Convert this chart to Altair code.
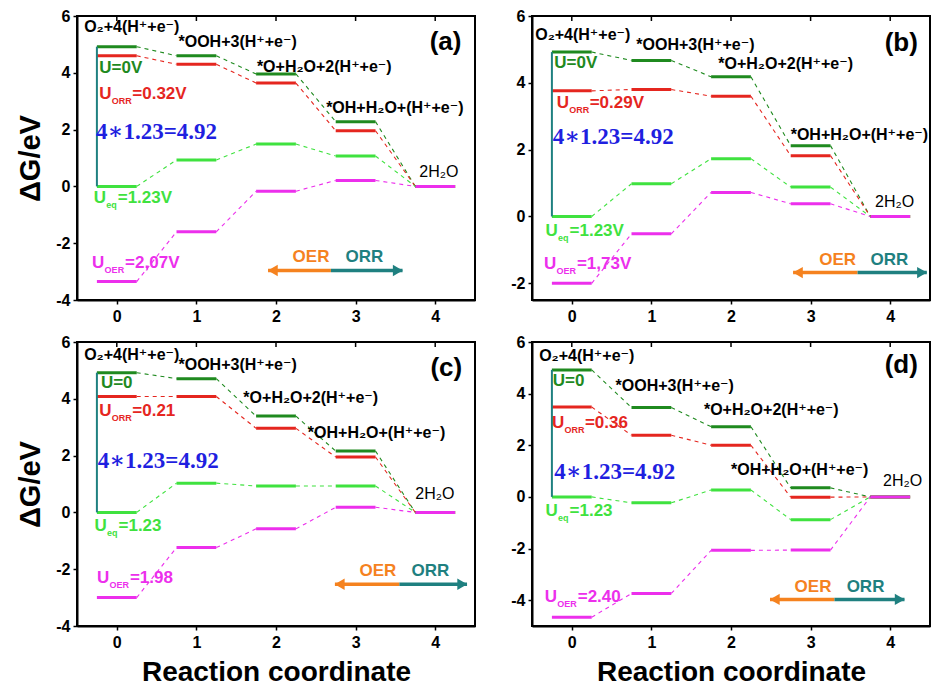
import altair as alt
import pandas as pd

SANS = "Liberation Sans, DejaVu Sans, Arial"
SERIF = "Liberation Serif, DejaVu Serif, Times New Roman"

steps = [0, 1, 2, 3, 4]
series = ["U0", "ORR", "EQ", "OER"]
series_colors = ["#1f8a1f", "#e5261f", "#3fe23f", "#ec2fec"]
teal = "#1f8080"
orange = "#f5821f"
blue = "#1f1fe0"

# Free energy (eV) of each intermediate, per panel and potential
a_u0 = [4.92, 4.60, 3.96, 2.28, 0.0]
a_orr = [4.60, 4.30, 3.64, 1.96, 0.0]
a_eq = [0.0, 0.93, 1.49, 1.07, 0.0]
a_oer = [-3.35, -1.60, -0.17, 0.21, 0.0]

b_u0 = [4.92, 4.67, 4.18, 2.12, 0.0]
b_orr = [3.76, 3.80, 3.60, 1.82, 0.0]
b_eq = [0.0, 0.98, 1.73, 0.88, 0.0]
b_oer = [-2.00, -0.52, 0.72, 0.38, 0.0]

c_u0 = [4.92, 4.71, 3.39, 2.16, 0.0]
c_orr = [4.08, 4.08, 2.96, 1.95, 0.0]
c_eq = [0.0, 1.03, 0.93, 0.93, 0.0]
c_oer = [-3.00, -1.24, -0.58, 0.18, 0.0]

d_u0 = [4.92, 3.46, 2.72, 0.35, 0.0]
d_orr = [3.48, 2.39, 2.00, -0.01, 0.0]
d_eq = [0.0, -0.23, 0.27, -0.88, 0.0]
d_oer = [-4.66, -3.74, -2.07, -2.06, 0.0]

energies = {
    "a": [a_u0, a_orr, a_eq, a_oer],
    "b": [b_u0, b_orr, b_eq, b_oer],
    "c": [c_u0, c_orr, c_eq, c_oer],
    "d": [d_u0, d_orr, d_eq, d_oer],
}
y_domains = {"a": [-4, 6], "b": [-2.5, 6], "c": [-4, 6], "d": [-5, 6]}
y_ticks = {"a": [-4, -2, 0, 2, 4, 6], "b": [-2, 0, 2, 4, 6],
           "c": [-4, -2, 0, 2, 4, 6], "d": [-4, -2, 0, 2, 4, 6]}

species = ["O₂+4(H⁺+e⁻)", "*OOH+3(H⁺+e⁻)", "*O+H₂O+2(H⁺+e⁻)",
           "*OH+H₂O+(H⁺+e⁻)", "2H₂O"]
species_x = {"a": [-0.41, 0.775, 1.76, 2.63, 3.80],
             "b": [-0.46, 0.81, 1.84, 2.75, 3.81],
             "c": [-0.41, 0.775, 1.59, 2.40, 3.75],
             "d": [-0.41, 0.55, 1.66, 2.00, 3.91]}
species_y = {"a": [5.61, 5.08, 4.20, 2.76, 0.51],
             "b": [5.42, 5.12, 4.55, 2.43, 0.42],
             "c": [5.55, 5.20, 4.02, 2.79, 0.64],
             "d": [5.45, 4.28, 3.38, 1.06, 0.61]}

panel_tag = {"a": (3.93, 5.10), "b": (3.93, 5.20), "c": (3.94, 5.08), "d": (3.93, 5.12)}

# potential labels: U=0, U_ORR, 4*1.23 sum, U_eq, U_OER  -> (x, y)
u_pos = {
    "a": [(-0.22, 4.17), (-0.22, 3.25), (-0.26, 1.92), (-0.29, -0.41), (-0.31, -2.70)],
    "b": [(-0.22, 4.58), (-0.19, 3.41), (-0.24, 2.37), (-0.33, -0.42), (-0.35, -1.41)],
    "c": [(-0.20, 4.55), (-0.22, 3.58), (-0.24, 1.81), (-0.28, -0.47), (-0.25, -2.31)],
    "d": [(-0.24, 4.48), (-0.25, 2.86), (-0.22, 0.97), (-0.33, -0.53), (-0.34, -3.88)],
}
u_text = {
    "a": ["U=0V", "=0.32V", "=1.23V", "=2,07V"],
    "b": ["U=0V", "=0.29V", "=1.23V", "=1,73V"],
    "c": ["U=0", "=0.21", "=1.23", "=1.98"],
    "d": ["U=0", "=0.36", "=1.23", "=2.40"],
}
sum_text = "4∗1.23=4.92"

# OER / ORR direction arrows: y, left tip, middle, right tip, label y, OER x, ORR x
arrows = {
    "a": (-2.96, 1.90, 2.69, 3.59, -2.50, 2.44, 3.11),
    "b": (-1.68, 2.78, 3.59, 4.46, -1.29, 3.34, 3.99),
    "c": (-2.53, 2.74, 3.55, 4.40, -2.07, 3.28, 3.94),
    "d": (-3.97, 2.49, 3.30, 4.18, -3.48, 3.03, 3.69),
}

HALF = 0.25
W, H = 398, 284


def panel(key, show_y_title, show_x_title):
    rows, links = [], []
    for s, vals in zip(series, energies[key]):
        for i, g in enumerate(vals):
            rows.append({"series": s, "x": i - HALF, "x2": i + HALF, "g": g})
            if i < len(vals) - 1:
                links.append({"series": s, "x": i + HALF, "x2": i + 1 - HALF,
                              "y": g, "y2": vals[i + 1]})
    lv = pd.DataFrame(rows)
    ln = pd.DataFrame(links)

    xs = alt.Scale(domain=[-0.5, 4.5], nice=False, zero=False)
    ys = alt.Scale(domain=y_domains[key], nice=False, zero=False)
    col = alt.Color("series:N", scale=alt.Scale(domain=series, range=series_colors), legend=None)

    xa = alt.Axis(values=steps, grid=False, labelFontSize=16, labelFontWeight="bold",
                  labelFont=SANS, labelColor="black", tickSize=4, tickWidth=1.5,
                  tickColor="black", labelPadding=4, domainWidth=2, domainColor="black",
                  labelExpr="'' + datum.value",
                  title="Reaction coordinate" if show_x_title else None,
                  titleFontSize=28, titleFont=SANS, titleFontWeight="bold",
                  titlePadding=8, titleColor="black")
    ya = alt.Axis(values=y_ticks[key], grid=False, labelFontSize=16, labelFontWeight="bold",
                  labelFont=SANS, labelColor="black", tickSize=4, tickWidth=1.5,
                  tickColor="black", labelPadding=3, domainWidth=2, domainColor="black",
                  labelExpr="'' + datum.value",
                  title="ΔG/eV" if show_y_title else None,
                  titleFontSize=29, titleFont=SANS, titleFontWeight="bold",
                  titlePadding=10, titleColor="black")

    def X(f):
        return alt.X(f, scale=xs, axis=xa)

    def Y(f):
        return alt.Y(f, scale=ys, axis=ya)

    levels = alt.Chart(lv).mark_rule(strokeWidth=3).encode(
        x=X("x:Q"), x2="x2:Q", y=Y("g:Q"), color=col)
    connectors = alt.Chart(ln).mark_rule(strokeWidth=1.1, strokeDash=[4, 4]).encode(
        x=X("x:Q"), x2="x2:Q", y=Y("y:Q"), y2="y2:Q", color=col)
    span = alt.Chart(pd.DataFrame({"x": [-HALF], "y": [0.0], "y2": [energies[key][0][0]]})).mark_rule(
        strokeWidth=2, color=teal).encode(x=X("x:Q"), y=Y("y:Q"), y2="y2:Q")

    inner_ticks = alt.Chart(pd.DataFrame({"t": steps})).mark_rule(
        strokeWidth=1.5, color="black").encode(x=X("t:Q"), y=alt.value(0), y2=alt.value(5))

    sp = pd.DataFrame({"txt": species, "x": species_x[key], "y": species_y[key]})
    species_txt = alt.Chart(sp[sp.txt != "2H₂O"]).mark_text(
        align="left", baseline="middle", font=SANS, fontSize=16, fontWeight="bold",
        color="black").encode(x=X("x:Q"), y=Y("y:Q"), text="txt:N")
    water_txt = alt.Chart(sp[sp.txt == "2H₂O"]).mark_text(
        align="left", baseline="middle", font=SANS, fontSize=16, color="black").encode(
        x=X("x:Q"), y=Y("y:Q"), text="txt:N")

    tx, ty = panel_tag[key]
    tag = alt.Chart(pd.DataFrame({"x": [tx], "y": [ty], "t": [f"({key})"]})).mark_text(
        align="left", baseline="middle", font=SANS, fontSize=26, fontWeight="bold",
        color="black").encode(x=X("x:Q"), y=Y("y:Q"), text="t:N")

    pos = u_pos[key]
    txt = u_text[key]
    u0 = alt.Chart(pd.DataFrame({"x": [pos[0][0]], "y": [pos[0][1]], "t": [txt[0]]})).mark_text(
        align="left", baseline="middle", font=SANS, fontSize=17, fontWeight="bold",
        color=series_colors[0]).encode(x=X("x:Q"), y=Y("y:Q"), text="t:N")
    total = alt.Chart(pd.DataFrame({"x": [pos[2][0]], "y": [pos[2][1]], "t": [sum_text]})).mark_text(
        align="left", baseline="middle", font=SERIF, fontSize=23, fontWeight="bold",
        color=blue).encode(x=X("x:Q"), y=Y("y:Q"), text="t:N")

    ul = pd.DataFrame({
        "x": [pos[1][0], pos[3][0], pos[4][0]],
        "y": [pos[1][1], pos[3][1], pos[4][1]],
        "sub": ["ORR", "eq", "OER"],
        "rest": [txt[1], txt[2], txt[3]],
        "c": [series_colors[1], series_colors[2], series_colors[3]],
    })
    base_u = alt.Chart(ul).encode(x=X("x:Q"), y=Y("y:Q"), color=alt.Color("c:N", scale=None))
    u_main = base_u.mark_text(align="left", baseline="middle", font=SANS, fontSize=17,
                              fontWeight="bold").encode(text=alt.value("U"))
    u_sub = base_u.mark_text(align="left", baseline="middle", font=SANS, fontSize=9,
                             fontWeight="bold", dx=12.5, dy=7).encode(text="sub:N")
    u_rest_wide = base_u.transform_filter(alt.datum.sub != "eq").mark_text(
        align="left", baseline="middle", font=SANS, fontSize=17, fontWeight="bold",
        dx=33).encode(text="rest:N")
    u_rest_narrow = base_u.transform_filter(alt.datum.sub == "eq").mark_text(
        align="left", baseline="middle", font=SANS, fontSize=17, fontWeight="bold",
        dx=24).encode(text="rest:N")

    ay, al, am, ar, lby, ox, rx = arrows[key]
    ar_df = pd.DataFrame({"x": [am, am], "x2": [al, ar], "y": [ay, ay],
                          "c": [orange, teal], "shape": ["triangle-left", "triangle-right"],
                          "tip": [al + 0.06, ar - 0.06], "lab": ["OER", "ORR"],
                          "lx": [ox, rx], "ly": [lby, lby]})
    shafts = alt.Chart(ar_df).mark_rule(strokeWidth=3.5).encode(
        x=X("x:Q"), x2="x2:Q", y=Y("y:Q"), color=alt.Color("c:N", scale=None))
    heads = alt.Chart(ar_df).mark_point(filled=True, size=130, opacity=1).encode(
        x=X("tip:Q"), y=Y("y:Q"),
        color=alt.Color("c:N", scale=None), shape=alt.Shape("shape:N", scale=None))
    arrow_lab = alt.Chart(ar_df).mark_text(
        align="center", baseline="middle", font=SANS, fontSize=17, fontWeight="bold").encode(
        x=X("lx:Q"), y=Y("ly:Q"), text="lab:N", color=alt.Color("c:N", scale=None))

    return alt.layer(
        levels, connectors, span, inner_ticks, species_txt, water_txt, tag,
        u0, total, u_main, u_sub, u_rest_wide, u_rest_narrow,
        shafts, heads, arrow_lab,
    ).properties(width=W, height=H)


top = alt.hconcat(panel("a", True, False), panel("b", False, False), spacing=33)
bottom = alt.hconcat(panel("c", True, True), panel("d", False, True), spacing=33)

chart = alt.vconcat(top, bottom, spacing=8).properties(
    padding={"left": 15, "top": 7, "right": 0, "bottom": 0},
    background="white",
).configure_view(stroke="black", strokeWidth=2)

chart.save("out.html", embed_options={"renderer": "svg", "actions": False})
